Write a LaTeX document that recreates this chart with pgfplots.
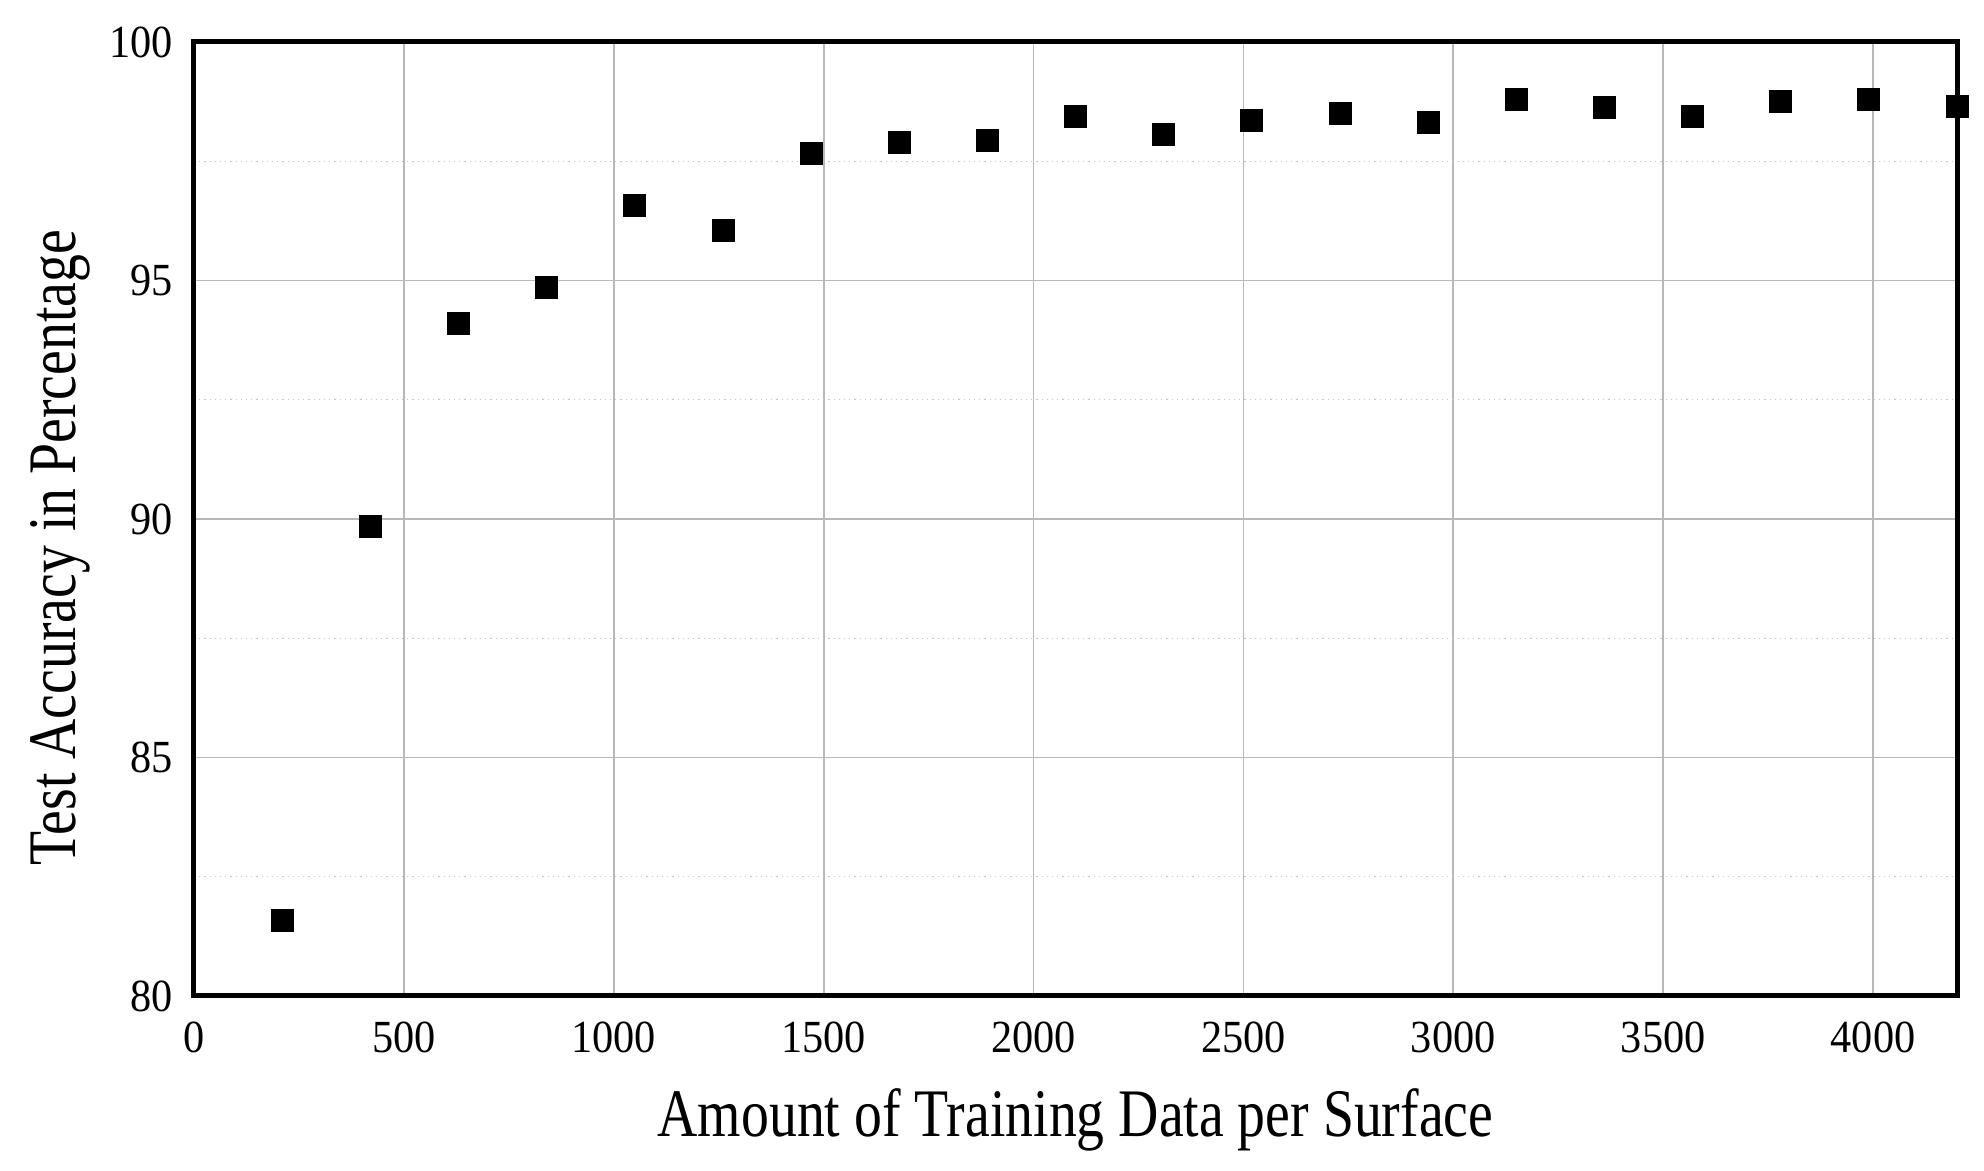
\documentclass[border=0pt]{standalone}
\usepackage{pgfplots}
\pgfplotsset{compat=1.18}
\usepackage{fontspec}
\setmainfont{Liberation Serif}
\newfontfamily\labelfont{Liberation Serif}[FakeStretch=0.82]
\newfontfamily\tickfont{Liberation Serif}[FakeStretch=0.92]
\definecolor{gridgray}{HTML}{B8B8B8}

\begin{document}
\begin{tikzpicture}
\path[use as bounding box] (-97pt,-87.5pt) rectangle (895pt,498pt);
\begin{axis}[
    at={(0,0)}, anchor=south west,
    scale only axis,
    width=881.5pt, height=477pt,
    xmin=0, xmax=4200,
    ymin=80, ymax=100,
    xtick={0,500,...,4000},
    ytick={80,85,90,95,100},
    minor y tick num=1,
    grid=major,
    yminorgrids,
    major grid style={draw=gridgray, line width=0.85pt},
    minor grid style={draw=gridgray!80, line width=0.6pt, dotted},
    axis line style={line width=2.5pt},
    major tick length=0pt, minor tick length=0pt,
    /pgf/number format/assume math mode=true,
    /pgf/number format/set thousands separator={},
    tick label style={font=\tickfont\fontsize{23}{27}\selectfont, inner sep=0pt},
    xticklabel shift=13pt,
    yticklabel shift=10.5pt,
    label style={font=\labelfont\fontsize{34}{40}\selectfont},
    xlabel={Amount of Training Data per Surface},
    ylabel={Test Accuracy in Percentage},
    xlabel style={at={(axis description cs:0.5,-0.1468)}, anchor=base},
    ylabel style={at={(axis description cs:-0.067,0.47)}, anchor=base},
    clip=true,
]
\addplot[only marks, mark=square*, mark size=5.5pt, mark options={fill=black, draw=none}] coordinates {
    (210,81.59) (420,89.84) (630,94.11) (840,94.85) (1050,96.58)
    (1260,96.05) (1470,97.67) (1680,97.90) (1890,97.93) (2100,98.43)
    (2310,98.06) (2520,98.36) (2730,98.50) (2940,98.31) (3150,98.79)
    (3360,98.62) (3570,98.45) (3780,98.75) (3990,98.79) (4200,98.66)
};
\end{axis}
\end{tikzpicture}
\end{document}
